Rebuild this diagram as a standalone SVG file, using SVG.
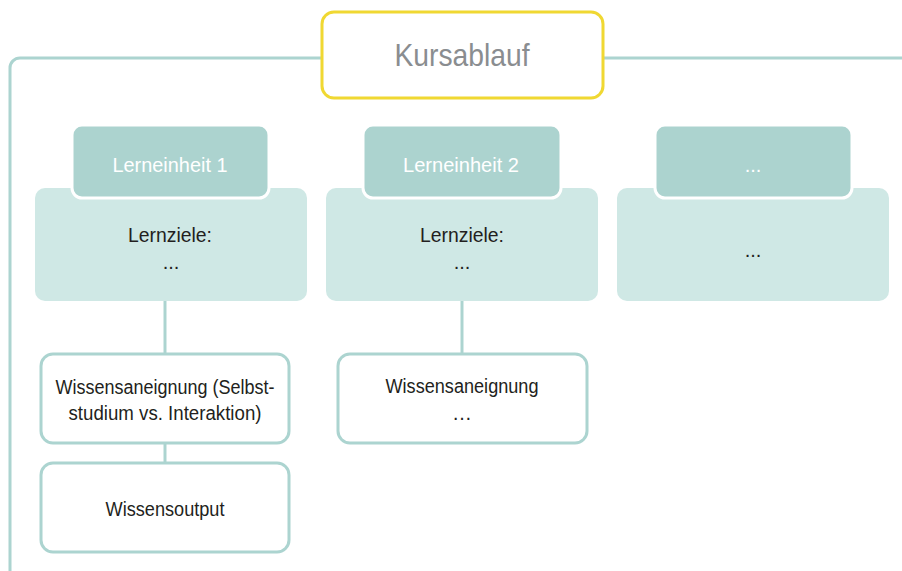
<svg xmlns="http://www.w3.org/2000/svg" width="902" height="571" viewBox="0 0 902 571">
<style>
.frame{fill:none;stroke:#acd4d0;stroke-width:3}
.title{fill:#fff;stroke:#f0d832;stroke-width:3}
.body{fill:#cfe8e5}
.head{fill:#acd3cf;stroke:#fff;stroke-width:3}
.box{fill:#fff;stroke:#acd4d0;stroke-width:3}
.conn{stroke:#acd4d0;stroke-width:3;fill:none}
text{font-family:"Liberation Sans",Arial,sans-serif;text-anchor:middle}
.t{font-size:20px;fill:#231f20}
.h{font-size:20px;fill:#fff}
.k{font-size:32px;fill:#8a8d90}
</style>
<rect class="frame" x="10" y="58" width="1000" height="600" rx="10"/>
<g id="kursablauf">
<rect class="title" x="322" y="12" width="281" height="86" rx="12"/>
<text class="k" x="462" y="66" textLength="135" lengthAdjust="spacingAndGlyphs">Kursablauf</text>
</g>
<g id="connectors">
<line class="conn" x1="165" y1="300" x2="165" y2="355"/>
<line class="conn" x1="165" y1="443" x2="165" y2="463"/>
<line class="conn" x1="462" y1="300" x2="462" y2="355"/>
</g>
<g id="einheit1">
<rect class="body" x="35" y="188" width="272" height="113" rx="10"/>
<rect class="head" x="72" y="125" width="197" height="73" rx="10"/>
<text class="h" x="170" y="172" textLength="115" lengthAdjust="spacingAndGlyphs">Lerneinheit 1</text>
<text class="t" x="170" y="242" textLength="84" lengthAdjust="spacingAndGlyphs">Lernziele:</text>
<text class="t" x="171" y="269">...</text>
</g>
<g id="einheit2">
<rect class="body" x="326" y="188" width="272" height="113" rx="10"/>
<rect class="head" x="363" y="125" width="198" height="73" rx="10"/>
<text class="h" x="461" y="172" textLength="116" lengthAdjust="spacingAndGlyphs">Lerneinheit 2</text>
<text class="t" x="462" y="242" textLength="84" lengthAdjust="spacingAndGlyphs">Lernziele:</text>
<text class="t" x="462" y="269">...</text>
</g>
<g id="einheit3">
<rect class="body" x="617" y="188" width="272" height="113" rx="10"/>
<rect class="head" x="655" y="125" width="197" height="73" rx="10"/>
<text class="h" x="753" y="172">...</text>
<text class="t" x="753" y="257">...</text>
</g>
<g id="wissen1">
<rect class="box" x="41" y="354" width="248" height="89" rx="12"/>
<text class="t" x="165" y="394" textLength="219" lengthAdjust="spacingAndGlyphs">Wissensaneignung (Selbst-</text>
<text class="t" x="165" y="420" textLength="193" lengthAdjust="spacingAndGlyphs">studium vs. Interaktion)</text>
</g>
<g id="output1">
<rect class="box" x="41" y="463" width="248" height="89" rx="12"/>
<text class="t" x="165" y="516" textLength="119" lengthAdjust="spacingAndGlyphs">Wissensoutput</text>
</g>
<g id="wissen2">
<rect class="box" x="338" y="354" width="249" height="89" rx="12"/>
<text class="t" x="462" y="393" textLength="153" lengthAdjust="spacingAndGlyphs">Wissensaneignung</text>
<text class="t" x="462" y="420">…</text>
</g>
</svg>
